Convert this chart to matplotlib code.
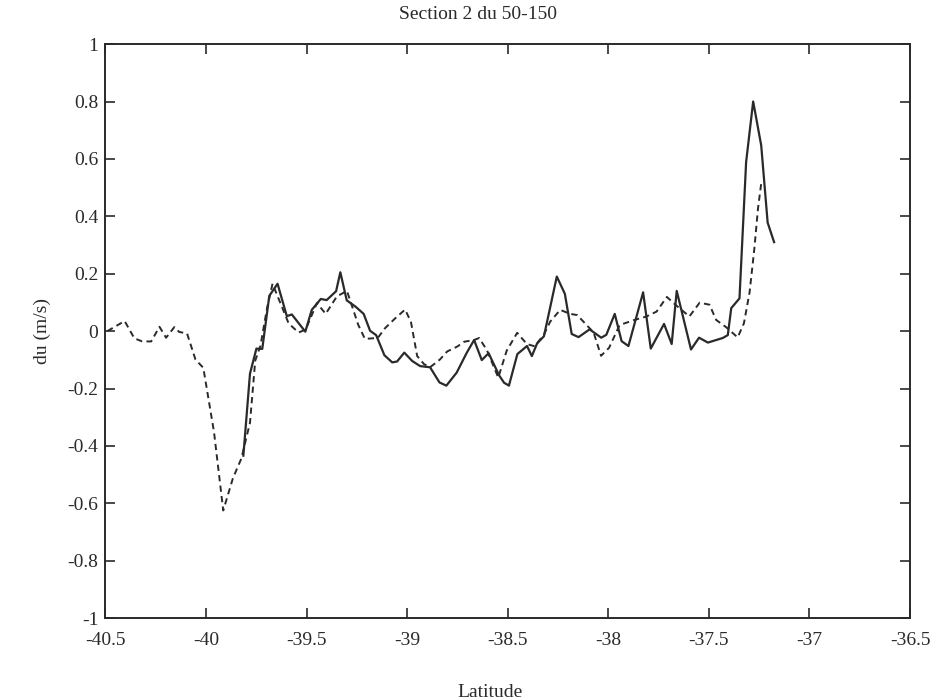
import matplotlib
matplotlib.use("Agg")
import matplotlib.pyplot as plt

# Dashed series (latitude, du)
lat_dash = [-40.49, -40.404, -40.356, -40.317, -40.272, -40.231, -40.198, -40.157, -40.133,
            -40.094, -40.052, -40.013, -39.960, -39.914, -39.866, -39.824, -39.781, -39.755,
            -39.729, -39.696, -39.669, -39.589, -39.540, -39.505, -39.448, -39.405, -39.349,
            -39.299, -39.243, -39.210, -39.146, -39.110, -39.060, -39.010, -38.981, -38.950,
            -38.916, -38.886, -38.837, -38.801, -38.751, -38.716, -38.667, -38.642, -38.603,
            -38.547, -38.505, -38.453, -38.405, -38.366, -38.320, -38.289, -38.239, -38.190,
            -38.155, -38.121, -38.073, -38.036, -37.996, -37.944, -37.874, -37.810, -37.760,
            -37.709, -37.670, -37.597, -37.546, -37.497, -37.464, -37.415, -37.357, -37.326,
            -37.298, -37.274, -37.256, -37.239]
du_dash = [0.0, 0.035, -0.025, -0.036, -0.036, 0.015, -0.023, 0.014, -0.003,
           -0.008, -0.099, -0.128, -0.351, -0.625, -0.513, -0.444, -0.319, -0.103,
           -0.051, 0.081, 0.165, 0.027, -0.005, 0.005, 0.098, 0.06, 0.121,
           0.14, 0.022, -0.027, -0.024, 0.01, 0.044, 0.075, 0.032, -0.087,
           -0.115, -0.126, -0.099, -0.071, -0.054, -0.037, -0.031, -0.024, -0.067,
           -0.162, -0.068, -0.006, -0.045, -0.053, -0.012, 0.033, 0.074, 0.060,
           0.056, 0.031, -0.005, -0.086, -0.058, 0.021, 0.038, 0.051, 0.068,
           0.119, 0.094, 0.051, 0.099, 0.092, 0.039, 0.014, -0.022, 0.027,
           0.134, 0.288, 0.427, 0.52]

# Solid series (latitude, du)
lat_solid = [-39.814, -39.781, -39.749, -39.720, -39.685, -39.644, -39.598, -39.573, -39.506,
             -39.474, -39.429, -39.400, -39.353, -39.332, -39.300, -39.256, -39.216, -39.184,
             -39.154, -39.113, -39.074, -39.050, -39.014, -38.975, -38.935, -38.886, -38.839,
             -38.805, -38.754, -38.704, -38.667, -38.629, -38.595, -38.542, -38.518, -38.494,
             -38.452, -38.404, -38.380, -38.354, -38.320, -38.256, -38.216, -38.182, -38.148,
             -38.093, -38.035, -38.010, -37.968, -37.934, -37.900, -37.827, -37.789, -37.723,
             -37.685, -37.660, -37.589, -37.549, -37.505, -37.431, -37.406, -37.389, -37.348,
             -37.315, -37.280, -37.240, -37.208, -37.176]
du_solid = [-0.434, -0.148, -0.061, -0.062, 0.123, 0.165, 0.052, 0.058, -0.002,
            0.074, 0.112, 0.108, 0.139, 0.205, 0.107, 0.085, 0.06, 0.001,
            -0.014, -0.084, -0.109, -0.106, -0.075, -0.104, -0.122, -0.126, -0.179,
            -0.19, -0.145, -0.076, -0.031, -0.101, -0.077, -0.155, -0.18, -0.19,
            -0.08, -0.052, -0.087, -0.043, -0.018, 0.19, 0.13, -0.01, -0.021,
            0.006, -0.023, -0.013, 0.06, -0.035, -0.052, 0.135, -0.061, 0.025,
            -0.045, 0.14, -0.064, -0.023, -0.04, -0.024, -0.014, 0.08, 0.114,
            0.589, 0.80, 0.647, 0.378, 0.31]

x_ticks = [-40.5, -40, -39.5, -39, -38.5, -38, -37.5, -37, -36.5]
x_tick_labels = ["-40.5", "-40", "-39.5", "-39", "-38.5", "-38", "-37.5", "-37", "-36.5"]
y_ticks = [-1, -0.8, -0.6, -0.4, -0.2, 0, 0.2, 0.4, 0.6, 0.8, 1]
y_tick_labels = ["-1", "-0.8", "-0.6", "-0.4", "-0.2", "0", "0.2", "0.4", "0.6", "0.8", "1"]

plt.rcParams['font.family'] = ['Liberation Serif', 'DejaVu Serif']

fig = plt.figure(figsize=(9.49, 7.0), dpi=100)
ax = fig.add_axes([0.111, 0.117, 0.848, 0.820])
ink = "#2a2a2a"
ax.plot(lat_dash, du_dash, linestyle=(0, (3.2, 2.2)), color=ink, linewidth=1.4)
ax.plot(lat_solid, du_solid, linestyle='-', color=ink, linewidth=1.6)

ax.set_xlim(-40.5, -36.5)
ax.set_ylim(-1, 1)
ax.set_xticks(x_ticks)
ax.set_xticklabels(x_tick_labels)
ax.set_yticks(y_ticks)
ax.set_yticklabels(y_tick_labels)
ax.tick_params(direction='in', length=7, width=1.2, top=True, right=True,
               labelsize=14, colors=ink)
ax.tick_params(axis='x', pad=10)
ax.tick_params(axis='y', pad=5)
for s in ax.spines.values():
    s.set_linewidth(1.4)
    s.set_color(ink)

ax.set_title("Section 2 du 50-150", fontsize=14, color=ink, pad=18, x=0.463)
ax.set_xlabel("Latitude", fontsize=14, color=ink, labelpad=24)
ax.xaxis.set_label_coords(0.478, -0.115)
ax.set_ylabel("du (m/s)", fontsize=14, color=ink, labelpad=12)

fig.savefig("out.png", dpi=100, facecolor="white")
